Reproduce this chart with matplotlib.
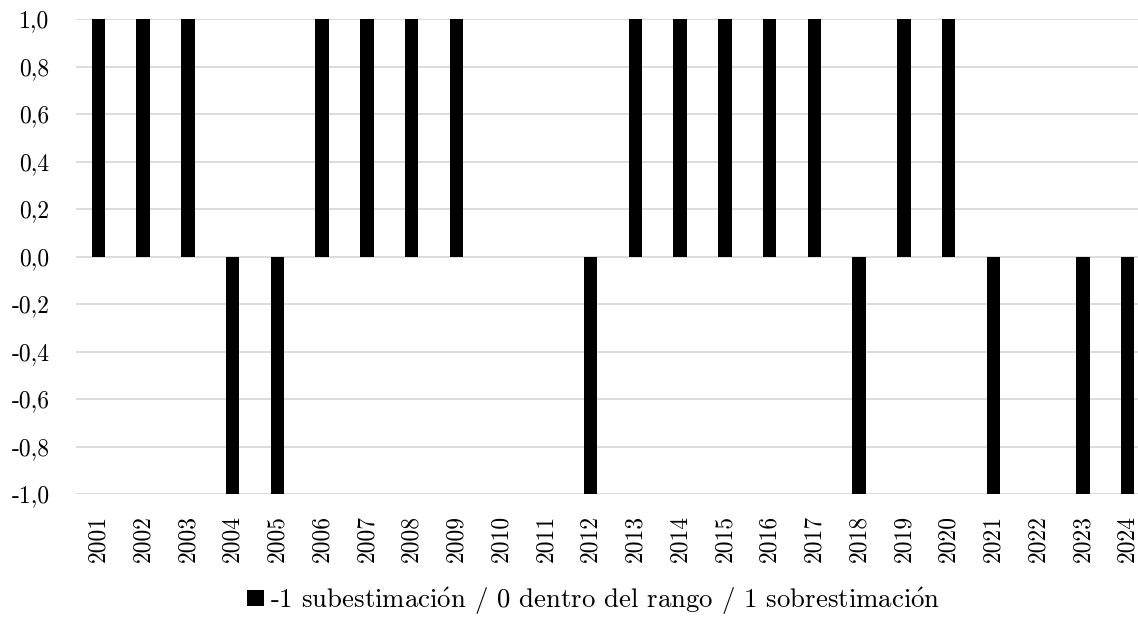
import numpy as np
import matplotlib.pyplot as plt
from matplotlib.patches import Patch

plt.rcParams.update({
    "font.family": ["cmr10", "DejaVu Serif"],
    "mathtext.fontset": "cm",
    "font.size": 17,
    "axes.unicode_minus": False,
})

# ------------------------------------------------------------
# data
# ------------------------------------------------------------
years = [str(y) for y in range(2001, 2025)]
valores = [1, 1, 1, -1, -1, 1, 1, 1, 1, 0, 0, -1,
           1, 1, 1, 1, 1, -1, 1, 1, -1, 0, -1, -1]
y_ticks = [-1.0, -0.8, -0.6, -0.4, -0.2, 0.0, 0.2, 0.4, 0.6, 0.8, 1.0]
o_acute = r"$\acute{\mathrm{o}}$"
leyenda = (f"-1 subestimaci{o_acute}n / 0 dentro del rango / "
           f"1 sobrestimaci{o_acute}n")

fig = plt.figure(figsize=(11.38, 6.18), dpi=100)
W, H = 1138, 618
ax = fig.add_axes([76 / W, 1 - 494 / H, (1150 - 76) / W, (494 - 19) / H])

x = np.arange(len(years))
ax.bar(x, valores, width=0.3, color="black", zorder=3)

ax.set_xlim(-0.5, len(years) - 0.5)
ax.set_ylim(-1.0, 1.0)
ax.set_yticks(y_ticks)
ax.set_yticklabels([f"{v:.1f}".replace(".", ",") for v in y_ticks])
ax.set_xticks(x)
ax.set_xticklabels(years, rotation=90)

ax.grid(axis="y", color="#d9d9d9", linewidth=1.3, zorder=0)
ax.tick_params(axis="both", length=0)
ax.tick_params(axis="x", pad=15)
ax.tick_params(axis="y", pad=19)
for s in ax.spines.values():
    s.set_visible(False)

fig.legend(handles=[Patch(facecolor="black", label=leyenda)],
           loc="center", bbox_to_anchor=(594 / W, 1 - 601 / H),
           frameon=False, handlelength=0.63, handleheight=0.56,
           handletextpad=0.22, fontsize=19.3, borderpad=0.2)

fig.savefig("out.png", dpi=100)
